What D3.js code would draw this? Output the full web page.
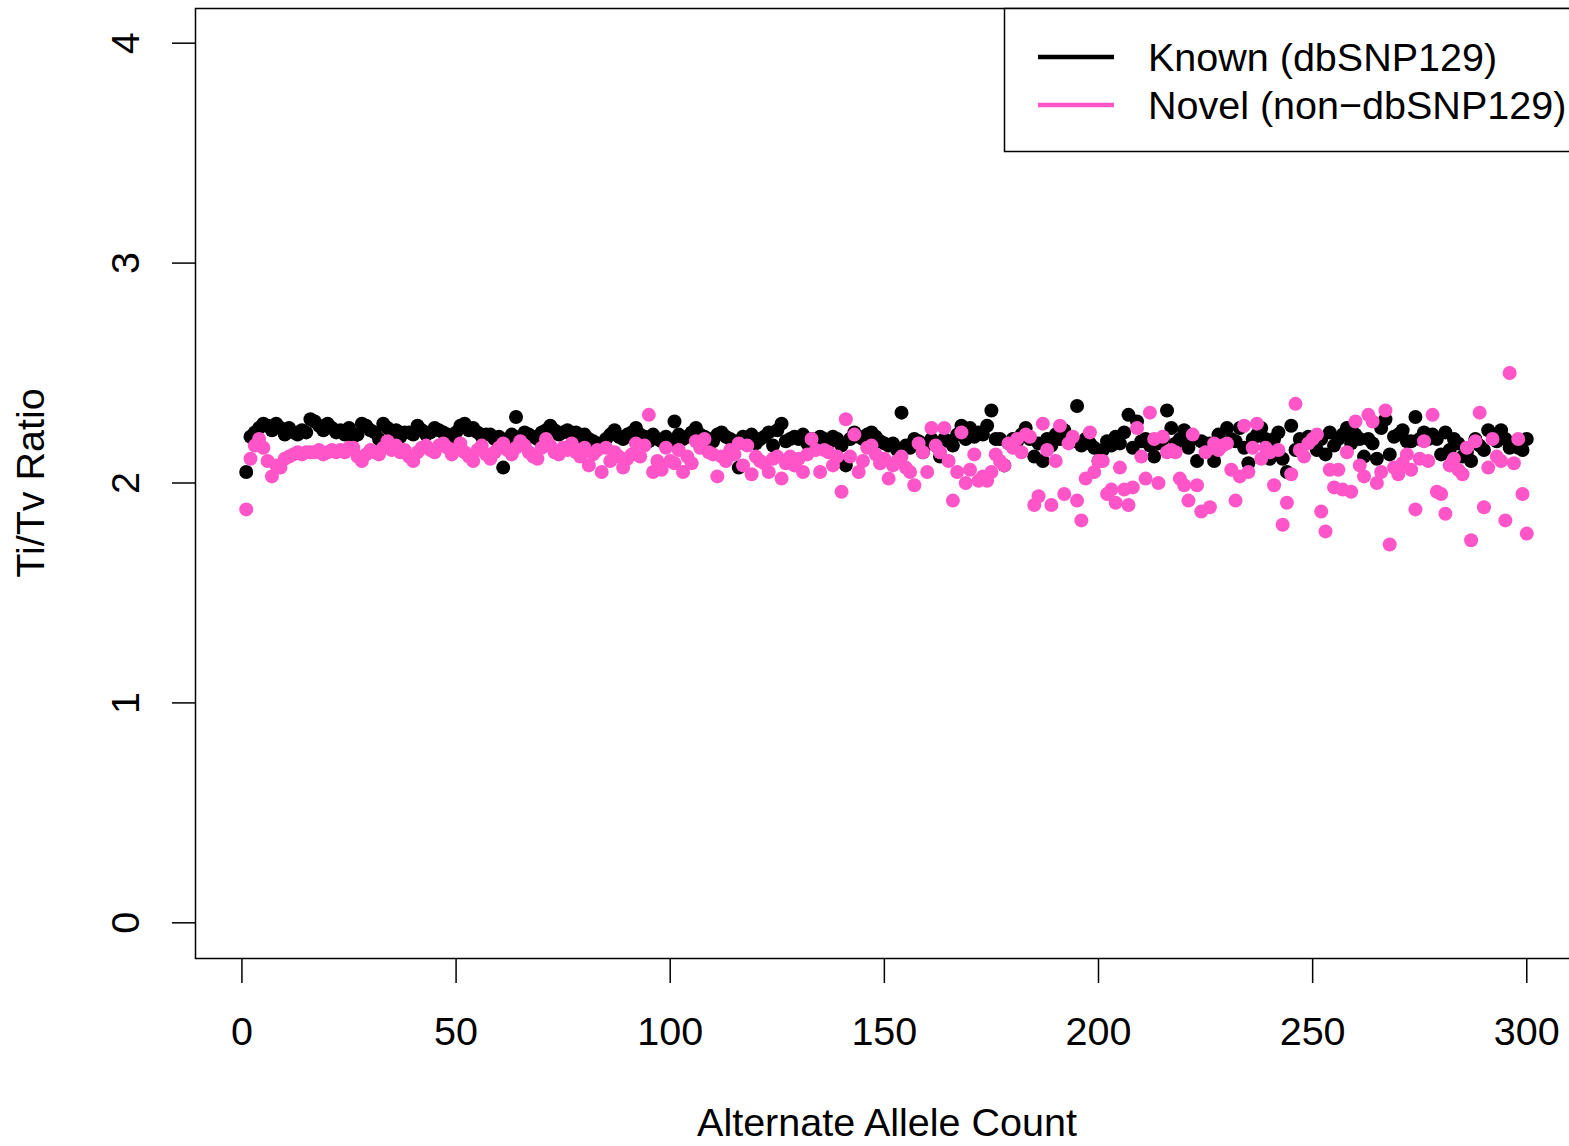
<!DOCTYPE html>
<html><head><meta charset="utf-8">
<script src="https://cdn.jsdelivr.net/npm/d3@7"></script>
<style>body{margin:0;background:#fff}svg{display:block}text{font-family:"Liberation Sans",Arial,Helvetica,sans-serif}</style>
</head><body>
<svg id="c" width="1569" height="1146"></svg>
<script>
const known = [
2.05,2.21,2.23,2.25,2.27,2.26,2.24,2.27,2.25,2.22,2.25,2.23,2.22,2.24,2.23,2.29,2.28,2.26,2.24,2.27,2.25,2.23,2.24,2.22,2.25,
2.21,2.22,2.27,2.26,2.24,2.23,2.2,2.27,2.25,2.22,2.24,2.21,2.23,2.23,2.22,2.26,2.24,2.22,2.23,2.25,2.24,2.23,2.22,2.21,2.23,
2.26,2.27,2.24,2.25,2.23,2.21,2.22,2.22,2.2,2.21,2.07,2.2,2.22,2.3,2.21,2.23,2.22,2.21,2.2,2.23,2.24,2.26,2.24,2.22,2.23,
2.24,2.22,2.23,2.21,2.22,2.2,2.19,2.18,2.17,2.2,2.22,2.24,2.21,2.2,2.22,2.23,2.25,2.22,2.21,2.19,2.22,2.2,2.19,2.21,2.18,
2.28,2.22,2.2,2.21,2.23,2.25,2.22,2.21,2.2,2.19,2.22,2.23,2.21,2.2,2.19,2.07,2.21,2.2,2.22,2.18,2.2,2.21,2.23,2.17,2.24,
2.27,2.19,2.2,2.21,2.2,2.22,2.18,2.2,2.19,2.21,2.2,2.18,2.21,2.2,2.17,2.08,2.2,2.23,2.21,2.2,2.22,2.23,2.21,2.19,2.18,
2.17,2.18,2.15,2.32,2.17,2.16,2.2,2.19,2.14,2.18,2.2,2.17,2.12,2.2,2.19,2.17,2.22,2.26,2.2,2.25,2.21,2.23,2.22,2.26,2.33,
2.2,2.2,2.08,2.18,2.2,2.19,2.22,2.25,2.2,2.12,2.18,2.1,2.2,2.17,2.22,2.2,2.24,2.21,2.19,2.35,2.17,2.2,2.18,2.16,2.1,
2.15,2.19,2.17,2.21,2.18,2.23,2.31,2.16,2.28,2.19,2.2,2.17,2.12,2.18,2.2,2.33,2.25,2.18,2.2,2.24,2.16,2.2,2.1,2.19,2.18,
2.18,2.1,2.22,2.18,2.25,2.2,2.19,2.25,2.16,2.09,2.2,2.22,2.25,2.2,2.11,2.2,2.23,2.11,2.05,2.26,2.15,2.2,2.19,2.21,2.2,
2.15,2.2,2.13,2.23,2.17,2.2,2.22,2.25,2.18,2.22,2.2,2.12,2.2,2.18,2.11,2.25,2.29,2.13,2.21,2.22,2.24,2.19,2.19,2.3,2.2,
2.23,2.2,2.22,2.2,2.13,2.23,2.15,2.2,2.18,2.12,2.14,2.1,2.2,2.17,2.15,2.24,2.22,2.19,2.24,2.2,2.16,2.18,2.16,2.15,2.2
];
const novel = [
1.88,2.11,2.17,2.2,2.16,2.1,2.03,2.08,2.07,2.11,2.12,2.13,2.14,2.13,2.14,2.14,2.14,2.15,2.13,2.14,2.15,2.14,2.15,2.14,2.16,
2.16,2.12,2.1,2.13,2.15,2.14,2.13,2.16,2.19,2.15,2.17,2.14,2.15,2.12,2.1,2.14,2.16,2.17,2.15,2.14,2.17,2.18,2.16,2.13,2.15,
2.18,2.14,2.12,2.1,2.15,2.17,2.13,2.11,2.14,2.16,2.18,2.15,2.13,2.16,2.19,2.17,2.14,2.12,2.11,2.16,2.2,2.17,2.14,2.13,2.16,
2.15,2.18,2.14,2.12,2.16,2.08,2.13,2.15,2.05,2.16,2.1,2.14,2.12,2.07,2.11,2.13,2.18,2.12,2.17,2.31,2.05,2.1,2.06,2.16,2.1,
2.09,2.15,2.05,2.12,2.09,2.19,2.16,2.2,2.14,2.13,2.03,2.12,2.1,2.15,2.13,2.18,2.08,2.17,2.04,2.12,2.1,2.09,2.05,2.11,2.12,
2.02,2.09,2.12,2.08,2.11,2.05,2.13,2.2,2.15,2.05,2.15,2.14,2.08,2.12,1.96,2.29,2.12,2.22,2.05,2.1,2.16,2.17,2.13,2.09,2.11,
2.02,2.08,2.1,2.12,2.07,2.05,1.99,2.18,2.14,2.05,2.25,2.17,2.14,2.25,2.1,1.92,2.05,2.23,2.0,2.06,2.13,2.01,2.03,2.01,2.05,
2.13,2.1,2.08,2.18,2.16,2.2,2.14,2.22,2.21,1.9,1.94,2.27,2.15,1.9,2.1,2.26,1.95,2.18,2.21,1.92,1.83,2.02,2.23,2.05,2.1,
2.1,1.95,1.97,1.91,2.07,1.97,1.9,1.98,2.25,2.12,2.02,2.32,2.2,2.0,2.21,2.14,2.15,2.14,2.02,1.99,1.92,2.22,1.99,1.87,2.14,
1.89,2.18,2.15,2.17,2.18,2.06,1.92,2.03,2.26,2.05,2.16,2.27,2.11,2.16,2.14,1.99,2.15,1.81,1.91,2.04,2.36,2.15,2.12,2.18,2.2,
2.22,1.87,1.78,2.06,1.98,2.06,1.97,2.14,1.96,2.28,2.08,2.03,2.31,2.28,2.0,2.05,2.33,1.72,2.07,2.04,2.09,2.13,2.06,1.88,2.11,
2.19,2.1,2.31,1.96,1.95,1.86,2.08,2.11,2.06,2.04,2.16,1.74,2.19,2.32,1.89,2.07,2.2,2.12,2.1,1.83,2.5,2.09,2.2,1.95,1.77
];
const xTicks = [0,50,100,150,200,250,300];
const yTicks = [0,1,2,3,4];
const seriesNames = ["Known (dbSNP129)","Novel (non\u2212dbSNP129)"];
const seriesColors = ["#000000","#ff55c8"];
const xTitle = "Alternate Allele Count";
const yTitle = "Ti/Tv Ratio";

const svg = d3.select("#c");
const x = d3.scaleLinear().domain([-10.96, 311.96]).range([195, 1578]);
const y = d3.scaleLinear().domain([-0.16, 4.16]).range([958, 8]);
const FS = 39.5;

// plot box
svg.append("rect").attr("x",195.5).attr("y",8.5).attr("width",1578-195).attr("height",958-8)
  .attr("fill","none").attr("stroke","#000").attr("stroke-width",1.5);

// series points
const series = [known, novel];
series.forEach((vals, si) => {
  svg.append("g").selectAll("circle").data(vals).join("circle")
    .attr("cx",(d,i)=>x(i+1)).attr("cy",d=>y(d)).attr("r",7)
    .attr("fill",seriesColors[si]);
});

// x axis ticks
const xa = svg.append("g");
xa.selectAll("line.t").data(xTicks).join("line").attr("class","t")
  .attr("x1",d=>x(d)).attr("x2",d=>x(d)).attr("y1",958).attr("y2",983).attr("stroke","#000").attr("stroke-width",1.5);
xa.selectAll("text").data(xTicks).join("text")
  .attr("x",d=>x(d)).attr("y",1045).attr("text-anchor","middle").attr("font-size",FS).text(d=>d);

// y axis ticks
const ya = svg.append("g");
ya.selectAll("line.t").data(yTicks).join("line").attr("class","t")
  .attr("x1",172).attr("x2",196).attr("y1",d=>y(d)).attr("y2",d=>y(d)).attr("stroke","#000").attr("stroke-width",1.5);
ya.selectAll("text").data(yTicks).join("text")
  .attr("transform",d=>`translate(139,${y(d)}) rotate(-90)`).attr("text-anchor","middle").attr("font-size",FS).text(d=>d);

// titles
svg.append("text").attr("x",887).attr("y",1136).attr("text-anchor","middle").attr("font-size",FS).text(xTitle);
svg.append("text").attr("transform","translate(44,483) rotate(-90)").attr("text-anchor","middle").attr("font-size",FS).text(yTitle);

// legend
const lg = svg.append("g");
lg.append("rect").attr("x",1004.5).attr("y",8.5).attr("width",600).attr("height",143).attr("fill","#fff").attr("stroke","#000").attr("stroke-width",1.5);
seriesNames.forEach((n,i)=>{
  const yy = 57 + i*48;
  lg.append("line").attr("x1",1038).attr("x2",1114).attr("y1",yy).attr("y2",yy).attr("stroke",seriesColors[i]).attr("stroke-width",4.5);
  lg.append("text").attr("x",1148).attr("y",yy+14).attr("font-size",FS).text(n);
});
</script>
</body></html>
